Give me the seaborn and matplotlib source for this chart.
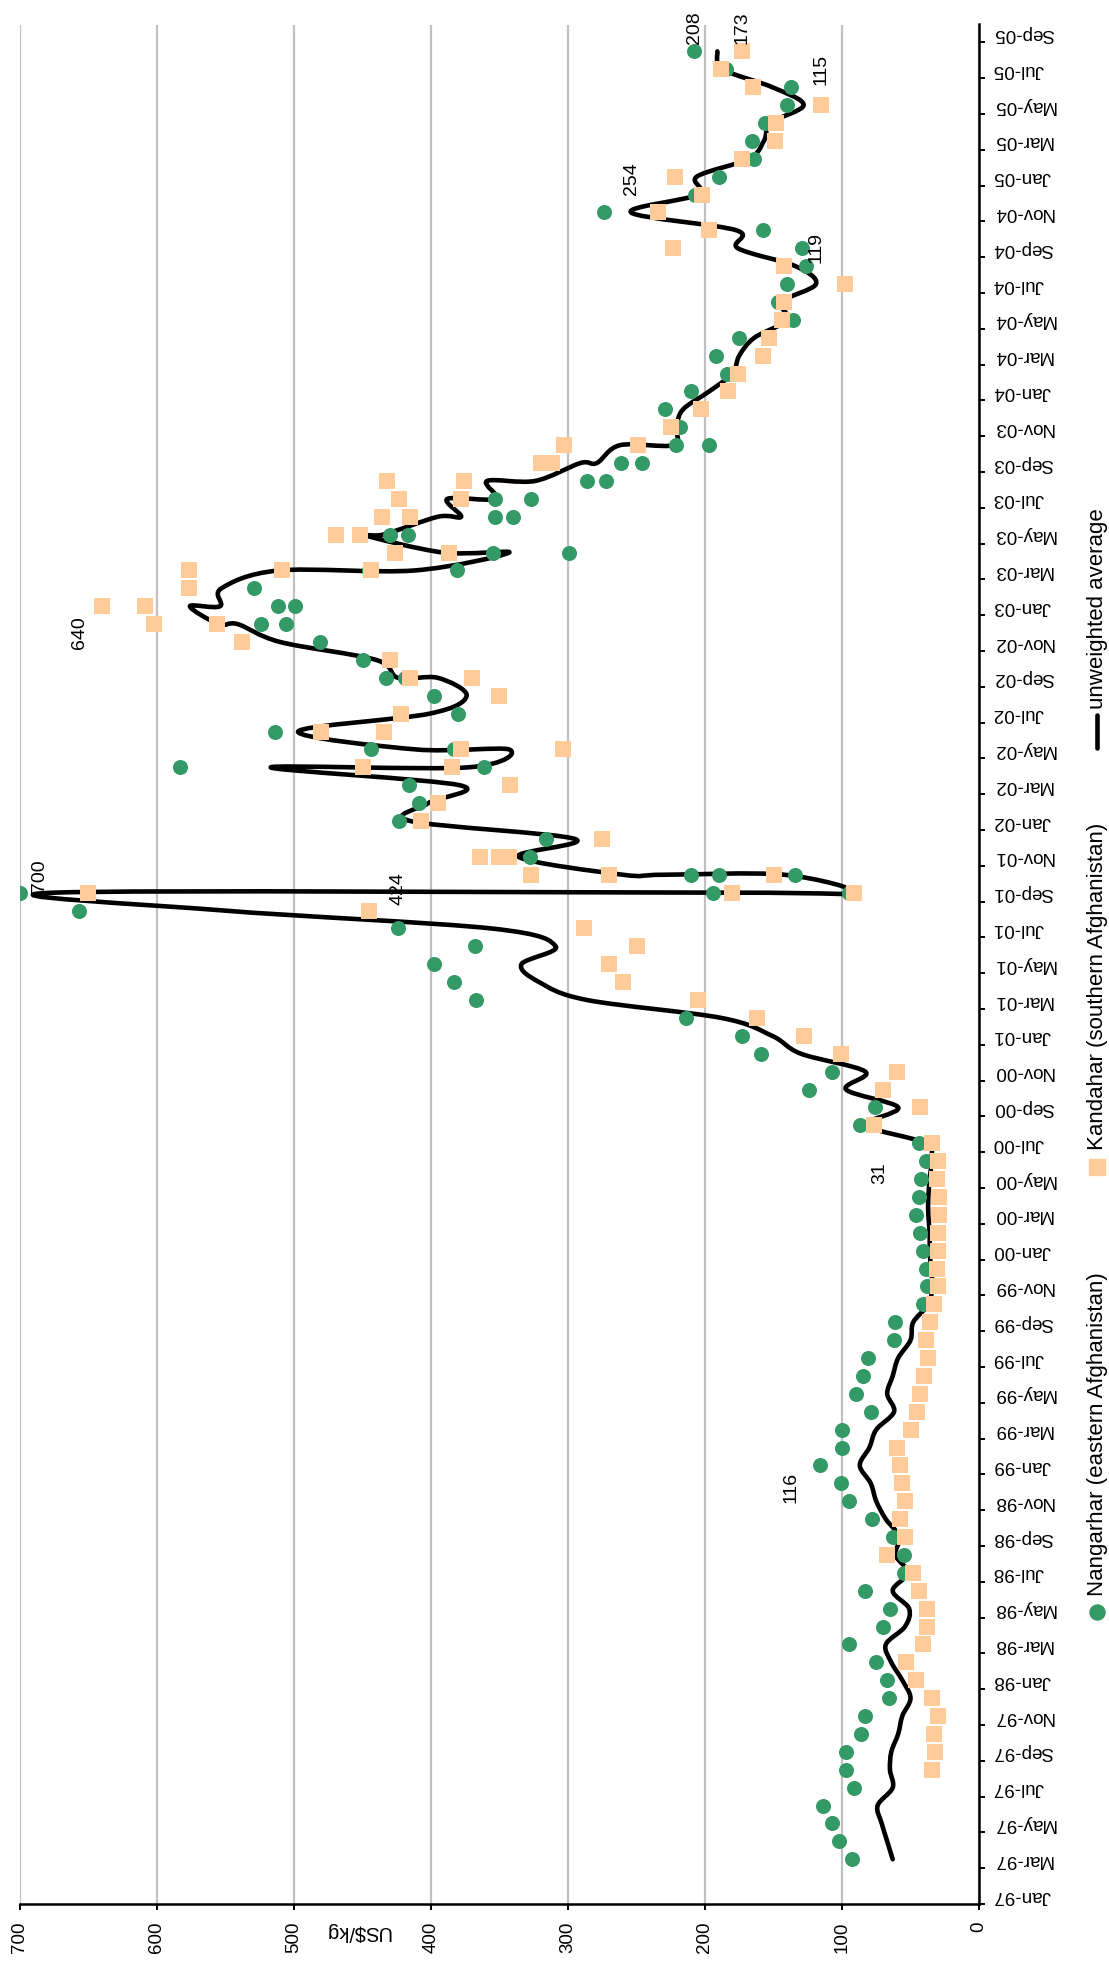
import numpy as np
import matplotlib
matplotlib.use("Agg")
import matplotlib.pyplot as plt
import seaborn as sns
from matplotlib.path import Path
from matplotlib.patches import PathPatch
from matplotlib.lines import Line2D

# ---------------------------------------------------------------- data
# Farm-gate opium prices (US$/kg); months may repeat when several
# observations were taken in the same month.
nangarhar_month = [
    "1997-03", "1997-04", "1997-05", "1997-06", "1997-07", "1997-08", "1997-09", "1997-10", "1997-11", "1997-12",
    "1998-01", "1998-02", "1998-03", "1998-04", "1998-05", "1998-06", "1998-07", "1998-08", "1998-09", "1998-10", "1998-11", "1998-12",
    "1999-01", "1999-02", "1999-03", "1999-04", "1999-05", "1999-06", "1999-07", "1999-08", "1999-09", "1999-10", "1999-11", "1999-12",
    "2000-01", "2000-02", "2000-03", "2000-04", "2000-05", "2000-06", "2000-07", "2000-08", "2000-09", "2000-10", "2000-11", "2000-12",
    "2001-01", "2001-02", "2001-03", "2001-04", "2001-05", "2001-06", "2001-07", "2001-08", "2001-09", "2001-09", "2001-09",
    "2001-10", "2001-10", "2001-10", "2001-11", "2001-12",
    "2002-01", "2002-02", "2002-03", "2002-04", "2002-04", "2002-05", "2002-05", "2002-06", "2002-07", "2002-08", "2002-09", "2002-09",
    "2002-10", "2002-11", "2002-12", "2002-12",
    "2003-01", "2003-01", "2003-02", "2003-03", "2003-03", "2003-04", "2003-04", "2003-05", "2003-05", "2003-06", "2003-06",
    "2003-07", "2003-07", "2003-08", "2003-08", "2003-09", "2003-09", "2003-10", "2003-10", "2003-11", "2003-12",
    "2004-01", "2004-02", "2004-03", "2004-04", "2004-05", "2004-06", "2004-07", "2004-08", "2004-09", "2004-10", "2004-11", "2004-12",
    "2005-01", "2005-02", "2005-03", "2005-04", "2005-05", "2005-06", "2005-07", "2005-08",
]
nangarhar_value = [
    93, 102, 107, 114, 91, 97, 97, 86, 83, 66,
    67, 75, 95, 70, 65, 83, 55, 55, 63, 78, 95, 101,
    116, 100, 100, 79, 90, 85, 81, 62, 61, 41, 38, 39,
    41, 43, 46, 44, 42, 39, 44, 87, 76, 124, 107, 159,
    173, 214, 367, 383, 398, 368, 424, 657, 700, 194, 95,
    134, 190, 210, 328, 316,
    423, 409, 416, 583, 361, 383, 444, 514, 380, 398, 419, 433,
    450, 481, 524, 506,
    512, 499, 529, 445, 381, 299, 355, 430, 417, 353, 340,
    353, 327, 286, 272, 261, 246, 221, 197, 218, 229,
    210, 184, 192, 175, 136, 147, 140, 126, 129, 158, 274, 207,
    190, 164, 166, 156, 140, 137, 185, 208,
]

kandahar_month = [
    "1997-08", "1997-09", "1997-10", "1997-11", "1997-12",
    "1998-01", "1998-02", "1998-03", "1998-04", "1998-05", "1998-06", "1998-07", "1998-08", "1998-09", "1998-10", "1998-11", "1998-12",
    "1999-01", "1999-02", "1999-03", "1999-04", "1999-05", "1999-06", "1999-07", "1999-08", "1999-09", "1999-10", "1999-11", "1999-12",
    "2000-01", "2000-02", "2000-03", "2000-04", "2000-05", "2000-06", "2000-07", "2000-08", "2000-09", "2000-10", "2000-11", "2000-12",
    "2001-01", "2001-02", "2001-03", "2001-04", "2001-05", "2001-06", "2001-07", "2001-08", "2001-09", "2001-09", "2001-09",
    "2001-10", "2001-10", "2001-10", "2001-11", "2001-11", "2001-11", "2001-12",
    "2002-01", "2002-02", "2002-03", "2002-04", "2002-04", "2002-05", "2002-05", "2002-06", "2002-06", "2002-07", "2002-08",
    "2002-09", "2002-09", "2002-10", "2002-11", "2002-12", "2002-12",
    "2003-01", "2003-01", "2003-02", "2003-03", "2003-03", "2003-03", "2003-04", "2003-04", "2003-05", "2003-05", "2003-06", "2003-06",
    "2003-07", "2003-07", "2003-08", "2003-08", "2003-09", "2003-09", "2003-10", "2003-10", "2003-11", "2003-12",
    "2004-01", "2004-02", "2004-03", "2004-04", "2004-05", "2004-06", "2004-07", "2004-08", "2004-09", "2004-10", "2004-11", "2004-12",
    "2005-01", "2005-02", "2005-03", "2005-04", "2005-05", "2005-06", "2005-07", "2005-08",
]
kandahar_value = [
    34, 32, 33, 30, 34,
    46, 53, 41, 38, 38, 44, 48, 67, 54, 58, 54, 56,
    58, 60, 50, 45, 43, 40, 37, 39, 36, 33, 30, 31,
    30, 30, 29, 29, 31, 30, 34, 77, 43, 70, 60, 101,
    128, 162, 205, 260, 270, 250, 288, 445, 650, 180, 91,
    150, 270, 327, 364, 350, 343, 275,
    407, 395, 342, 450, 385, 304, 378, 480, 434, 422, 350,
    370, 415, 430, 538, 556, 602,
    640, 609, 577, 577, 509, 444, 387, 426, 469, 452, 436, 415,
    423, 378, 432, 376, 320, 312, 303, 249, 225, 203,
    183, 176, 158, 153, 144, 142, 98, 142, 223, 197, 234, 202,
    222, 173, 149, 148, 115, 165, 188, 173,
]

average_month = [
    "1997-03", "1997-04", "1997-05", "1997-06", "1997-07", "1997-08", "1997-09", "1997-10", "1997-11", "1997-12",
    "1998-01", "1998-02", "1998-03", "1998-04", "1998-05", "1998-06", "1998-07", "1998-08", "1998-09", "1998-10", "1998-11", "1998-12",
    "1999-01", "1999-02", "1999-03", "1999-04", "1999-05", "1999-06", "1999-07", "1999-08", "1999-09", "1999-10", "1999-11", "1999-12",
    "2000-01", "2000-02", "2000-03", "2000-04", "2000-05", "2000-06", "2000-07", "2000-08", "2000-09", "2000-10", "2000-11", "2000-12",
    "2001-01", "2001-02", "2001-03", "2001-04", "2001-05", "2001-06", "2001-07", "2001-08", "2001-09", "2001-09", "2001-09",
    "2001-10", "2001-10", "2001-10", "2001-11", "2001-12",
    "2002-01", "2002-02", "2002-03", "2002-04", "2002-04", "2002-05", "2002-05", "2002-06", "2002-07", "2002-08", "2002-09", "2002-09",
    "2002-10", "2002-11", "2002-12", "2002-12",
    "2003-01", "2003-01", "2003-02", "2003-03", "2003-03", "2003-04", "2003-04", "2003-05", "2003-05", "2003-06", "2003-06",
    "2003-07", "2003-07", "2003-08", "2003-08", "2003-09", "2003-09", "2003-10", "2003-10", "2003-11", "2003-12",
    "2004-01", "2004-02", "2004-03", "2004-04", "2004-05", "2004-06", "2004-07", "2004-08", "2004-09", "2004-10", "2004-11", "2004-12",
    "2005-01", "2005-02", "2005-03", "2005-04", "2005-05", "2005-06", "2005-07", "2005-08",
]
average_value = [
    63, 67, 71, 74, 63, 65, 64, 59, 56, 50,
    56, 64, 68, 54, 51, 63, 52, 61, 58, 68, 75, 79,
    87, 80, 75, 62, 67, 63, 59, 50, 48, 37, 34, 35,
    36, 36, 37, 37, 36, 35, 39, 82, 59, 97, 83, 130,
    151, 188, 286, 321, 334, 309, 356, 551, 675, 187, 93,
    142, 230, 260, 336, 295,
    415, 402, 379, 517, 373, 343, 411, 497, 401, 374, 395, 424,
    440, 510, 541, 555,
    576, 554, 553, 511, 412, 343, 391, 450, 435, 395, 378,
    388, 353, 359, 324, 291, 279, 262, 223, 221, 216,
    197, 180, 175, 164, 140, 144, 119, 134, 176, 177, 254, 205,
    206, 168, 157, 152, 128, 151, 187, 191,
]

date_ticks = [
    "Jan-97", "Mar-97", "May-97", "Jul-97", "Sep-97", "Nov-97",
    "Jan-98", "Mar-98", "May-98", "Jul-98", "Sep-98", "Nov-98",
    "Jan-99", "Mar-99", "May-99", "Jul-99", "Sep-99", "Nov-99",
    "Jan-00", "Mar-00", "May-00", "Jul-00", "Sep-00", "Nov-00",
    "Jan-01", "Mar-01", "May-01", "Jul-01", "Sep-01", "Nov-01",
    "Jan-02", "Mar-02", "May-02", "Jul-02", "Sep-02", "Nov-02",
    "Jan-03", "Mar-03", "May-03", "Jul-03", "Sep-03", "Nov-03",
    "Jan-04", "Mar-04", "May-04", "Jul-04", "Sep-04", "Nov-04",
    "Jan-05", "Mar-05", "May-05", "Jul-05", "Sep-05",
]
value_ticks = [0, 100, 200, 300, 400, 500, 600, 700]

series_names = ["Nangarhar (eastern Afghanistan)", "Kandahar (southern Afghanistan)", "unweighted average"]
value_axis_title = "US$/kg"

# (series, month, value) points carrying a value label, with offsets in points
labelled_points = [
    ("nangarhar", "2001-09", 700, 14, 12),
    ("nangarhar", "2001-07", 424, 0, 29),
    ("kandahar", "2003-01", 640, -16, -19),
    ("nangarhar", "1999-01", 116, -21, -16),
    ("kandahar", "2000-05", 31, -41, 4),
    ("average", "2004-11", 254, 0, 24),
    ("average", "2004-07", 119, 0, 26),
    ("kandahar", "2005-05", 115, 0, 26),
    ("nangarhar", "2005-08", 208, 0, 17),
    ("kandahar", "2005-08", 173, 0, 17),
]

GREEN = "#339966"
PEACH = "#FFCC99"


def month_pos(s):
    y, m = s.split("-")
    return (int(y) - 1997) * 12 + int(m) - 1


def smooth_path(xs, ys):
    """Cubic Bezier path through the points (Catmull-Rom style smoothing)."""
    pts = np.column_stack([xs, ys]).astype(float)
    n = len(pts)
    verts = [pts[0]]
    codes = [Path.MOVETO]
    for k in range(n - 1):
        p0 = pts[k - 1] if k > 0 else pts[k]
        p1 = pts[k]
        p2 = pts[k + 1]
        p3 = pts[k + 2] if k + 2 < n else pts[k + 1]
        verts += [p1 + (p2 - p0) / 6.0, p2 - (p3 - p1) / 6.0, p2]
        codes += [Path.CURVE4] * 3
    return Path(verts, codes)


# ---------------------------------------------------------------- figure
sns.set_theme(style="white")
plt.rcParams["font.family"] = ["Liberation Sans", "DejaVu Sans"]

W, H = 1109, 1968
fig = plt.figure(figsize=(W / 100, H / 100), dpi=100)
ax = fig.add_axes([20 / W, 64 / H, 959 / W, 1879.5 / H])

n_pos = [month_pos(m) for m in nangarhar_month]
k_pos = [month_pos(m) for m in kandahar_month]
a_pos = [month_pos(m) for m in average_month]

ax.add_patch(PathPatch(smooth_path(average_value, a_pos), fill=False, edgecolor="black",
                       lw=3.3, capstyle="round", joinstyle="round", zorder=2))
sns.scatterplot(x=nangarhar_value, y=n_pos, marker="o", s=117, color=GREEN,
                linewidth=0, ax=ax, zorder=3)
sns.scatterplot(x=kandahar_value, y=k_pos, marker="s", s=132, color=PEACH,
                linewidth=0, ax=ax, zorder=4)

# value labels
for series, month, value, dx, dy in labelled_points:
    ax.annotate(f"{value}", xy=(value, month_pos(month)), xytext=(dx, dy),
                textcoords="offset points", rotation=90, ha="center", va="center",
                fontsize=14, color="black", zorder=6)

# axes
ax.set_xlim(700, 0)
ax.set_ylim(-0.5, 104.5)
ax.set_xlabel("")
ax.set_ylabel("")
ax.set_xticks(value_ticks)
ax.set_xticklabels([str(v) for v in value_ticks], rotation=90)
ax.tick_params(axis="x", which="major", bottom=True, length=4.3, width=1.4,
               direction="out", pad=8.4, labelsize=13.5, color="black", labelcolor="black")

ax.yaxis.tick_right()
ax.set_yticks(np.arange(0, 105, 2) - 0.5)
ax.set_yticklabels([])
ax.set_yticks(np.arange(0, 105, 2), minor=True)
ax.set_yticklabels(date_ticks, minor=True, rotation=180, va="center")
ax.tick_params(axis="y", which="major", left=False, right=True, length=4.3, width=1.4,
               direction="out", color="black")
ax.tick_params(axis="y", which="minor", left=False, right=True, labelleft=False,
               labelright=True, length=0, pad=10, labelsize=13.5, labelcolor="black")

ax.grid(axis="x", color="#c0c0c0", lw=1.6)
ax.grid(axis="y", visible=False)
ax.set_axisbelow(True)
for side in ("left", "top"):
    ax.spines[side].set_visible(False)
for side in ("bottom", "right"):
    ax.spines[side].set_visible(True)
    ax.spines[side].set_color("black")
    ax.spines[side].set_linewidth(1.8)
    ax.spines[side].set_zorder(5)

fig.text(358 / W, 1 - 1931 / H, value_axis_title, rotation=180, ha="center", va="center",
         fontsize=14.5, color="black")

# legend, drawn along the right edge
lx = 1097 / W
fig.add_artist(Line2D([lx], [1 - 1612 / H], transform=fig.transFigure, marker="o",
                      markersize=10.8, color=GREEN, linestyle="none"))
fig.text(lx, 1 - 1596 / H, series_names[0], rotation=90, ha="center", va="bottom",
         fontsize=16, color="black")
fig.add_artist(Line2D([lx], [1 - 1167 / H], transform=fig.transFigure, marker="s",
                      markersize=11.5, color=PEACH, linestyle="none"))
fig.text(lx, 1 - 1150 / H, series_names[1], rotation=90, ha="center", va="bottom",
         fontsize=16, color="black")
fig.add_artist(Line2D([lx, lx], [1 - 748 / H, 1 - 715 / H], transform=fig.transFigure,
                      color="black", lw=3.3, solid_capstyle="round"))
fig.text(lx, 1 - 709 / H, series_names[2], rotation=90, ha="center", va="bottom",
         fontsize=16, color="black")

fig.savefig("out.png", dpi=100, facecolor="white")
